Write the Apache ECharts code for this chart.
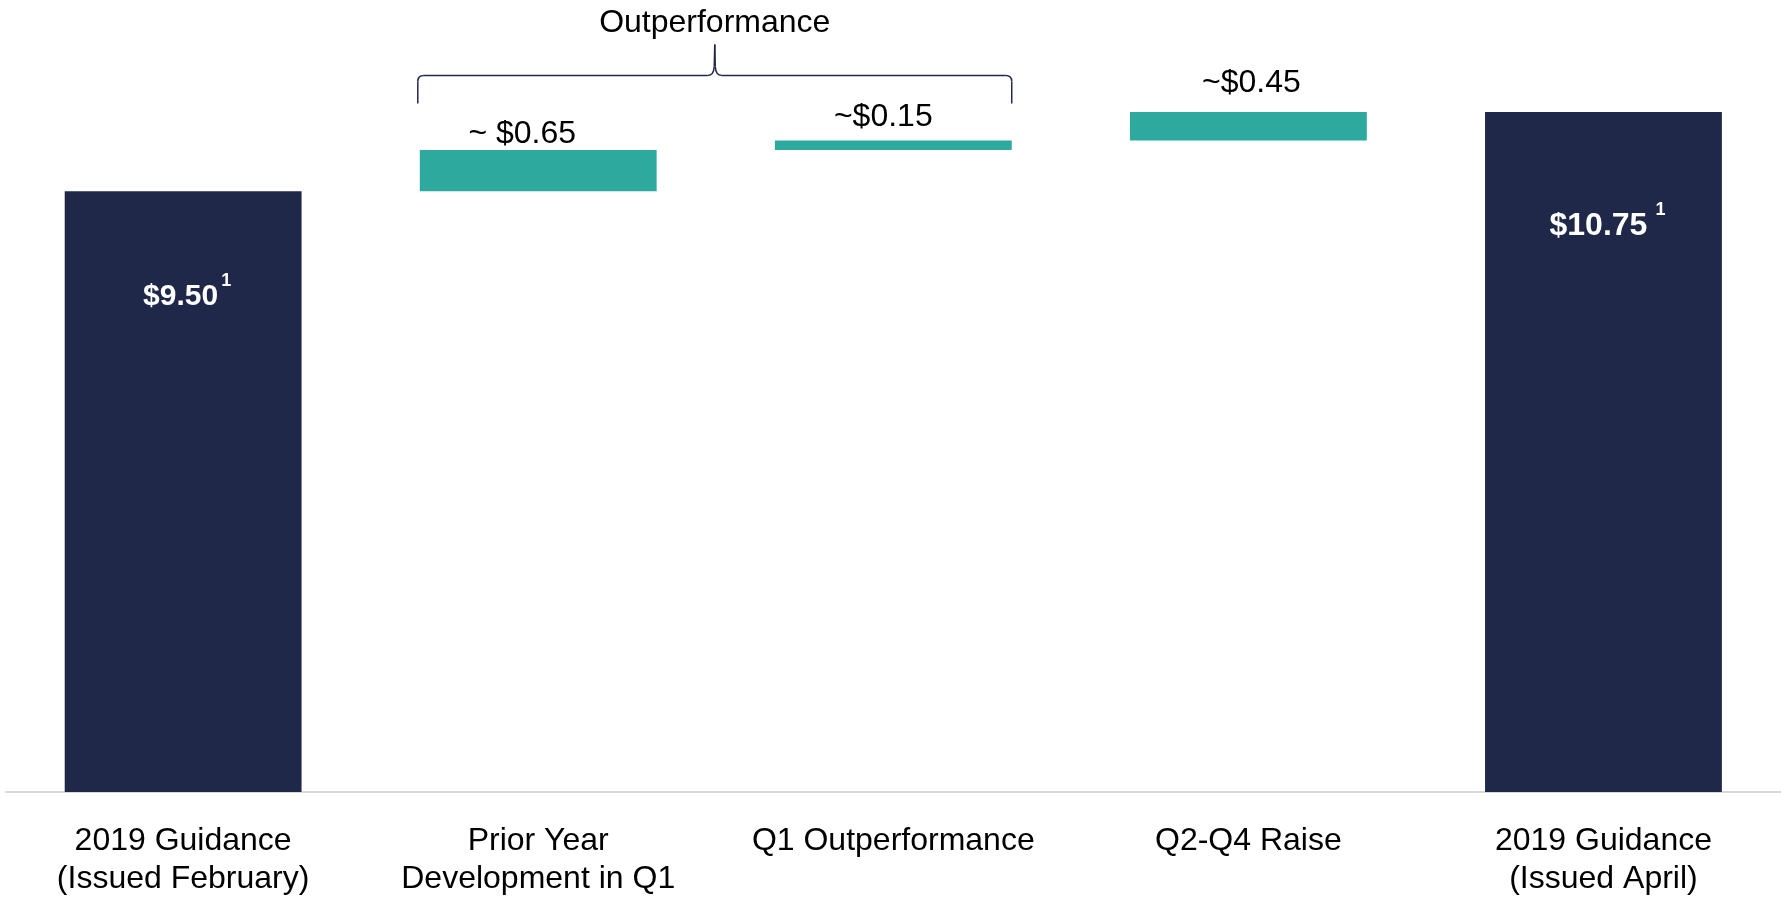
<!DOCTYPE html>
<html>
<head>
<meta charset="utf-8">
<style>
  html, body { margin: 0; padding: 0; background: #fff; }
  #main { width: 1781px; height: 898px; }
</style>
<script src="https://cdn.jsdelivr.net/npm/echarts@6/dist/echarts.min.js"></script>
</head>
<body>
<div id="main"></div>
<script>
// 数据
var categories = ['2019 Guidance\n(Issued February)', 'Prior Year\nDevelopment in Q1', 'Q1 Outperformance', 'Q2-Q4 Raise', '2019 Guidance\n(Issued April)'];
var startValue = 9.50;
var stepValues = [0.65, 0.15, 0.45];
var endValue = 10.75;
var stepLabels = ['~ $0.65', '~$0.15', '~$0.45'];
var totalLabels = ['$9.50', '$10.75'];
var footnote = '1';
var bracketText = 'Outperformance';

// 样式
var NAVY = '#1f2849', TEAL = '#2da99e';
var FONT = '"Liberation Sans", Arial, sans-serif';
var stepLabelStyle = [{offset: [-16, 0], distance: 0}, {offset: [-10, 0], distance: 7}, {offset: [3, 0], distance: 13}];
var totalLabelStyle = [{distance: 81, size: 30, gap: 3}, {distance: 89, size: 32, gap: 8}];

// 瀑布图：透明底座 + 数值
var values = [startValue].concat(stepValues, [endValue]);
var bases = [0], running = startValue;
stepValues.forEach(function(v){ bases.push(running); running += v; });
bases.push(0);

var mainData = values.map(function(v, i){
  var isTotal = (i === 0 || i === values.length - 1);
  var item = { value: v, itemStyle: { color: isTotal ? NAVY : TEAL } };
  if(isTotal){
    var t = i === 0 ? 0 : 1, ts = totalLabelStyle[t];
    item.label = {
      show: true, position: 'insideTop', distance: ts.distance, offset: [4, 0],
      formatter: '{v|' + totalLabels[t] + '}{s|' + footnote + '}',
      rich: {
        v: { fontFamily: FONT, fontSize: ts.size, fontWeight: 'bold', color: '#fff', lineHeight: 50 },
        s: { fontFamily: FONT, fontSize: 18, fontWeight: 'bold', color: '#fff', lineHeight: 18, verticalAlign: 'top', padding: [0, 0, 0, ts.gap] }
      }
    };
  } else {
    var st = stepLabelStyle[i - 1];
    item.label = {
      show: true, position: 'top', distance: st.distance, offset: st.offset,
      formatter: stepLabels[i - 1],
      fontFamily: FONT, fontSize: 32, color: '#000'
    };
  }
  return item;
});

var chart = echarts.init(document.getElementById('main'));
chart.setOption({
  animation: false,
  backgroundColor: '#fff',
  grid: { left: 5.6, width: 1778, top: 33, bottom: 105 },
  xAxis: {
    type: 'category',
    data: categories,
    axisTick: { show: false },
    axisLine: { lineStyle: { color: '#d9d9d9', width: 2 } },
    axisLabel: { interval: 0, fontFamily: FONT, fontSize: 32, lineHeight: 38, color: '#000', margin: 30 }
  },
  yAxis: { type: 'value', min: 0, max: 12, show: false, splitLine: { show: false } },
  series: [
    { name: 'base', type: 'bar', stack: 'w', barWidth: '66.7%', silent: true,
      itemStyle: { color: 'transparent' }, data: bases },
    { name: 'value', type: 'bar', stack: 'w', barWidth: '66.7%', data: mainData }
  ]
});

// 花括号注释：位置由坐标轴换算
var x1 = chart.convertToPixel({xAxisIndex: 0}, 1);
var x2 = chart.convertToPixel({xAxisIndex: 0}, 2);
var half = (x2 - x1) * 0.667 / 2;
var xL = x1 - half - 2, xR = x2 + half, xm = (xL + xR) / 2;
var topY = Math.min(chart.convertToPixel({yAxisIndex: 0}, bases[2] + stepValues[1]),
                    chart.convertToPixel({yAxisIndex: 0}, bases[1] + stepValues[0]));
var yTip = topY - 37, yLine = yTip - 28, yPeak = yLine - 31;
var ls = { stroke: NAVY, lineWidth: 1.5, fill: null };
chart.setOption({
  graphic: [
    { type: 'line', shape: { x1: xL, y1: yTip, x2: xL, y2: yLine + 6 }, style: ls },
    { type: 'bezierCurve', shape: { x1: xL, y1: yLine + 6, cpx1: xL, cpy1: yLine, x2: xL + 6, y2: yLine }, style: ls },
    { type: 'line', shape: { x1: xL + 6, y1: yLine, x2: xm - 7, y2: yLine }, style: ls },
    { type: 'bezierCurve', shape: { x1: xm - 7, y1: yLine, cpx1: xm - 1, cpy1: yLine, x2: xm - 0.5, y2: yLine - 9 }, style: ls },
    { type: 'line', shape: { x1: xm - 0.5, y1: yLine - 9, x2: xm, y2: yPeak }, style: ls },
    { type: 'line', shape: { x1: xm, y1: yPeak, x2: xm + 0.5, y2: yLine - 9 }, style: ls },
    { type: 'bezierCurve', shape: { x1: xm + 0.5, y1: yLine - 9, cpx1: xm + 1, cpy1: yLine, x2: xm + 7, y2: yLine }, style: ls },
    { type: 'line', shape: { x1: xm + 7, y1: yLine, x2: xR - 6, y2: yLine }, style: ls },
    { type: 'bezierCurve', shape: { x1: xR - 6, y1: yLine, cpx1: xR, cpy1: yLine, x2: xR, y2: yLine + 6 }, style: ls },
    { type: 'line', shape: { x1: xR, y1: yLine + 6, x2: xR, y2: yTip }, style: ls },
    { type: 'text', x: xm, y: yPeak - 21,
      style: { text: bracketText, font: '32px ' + FONT, fill: '#000', textAlign: 'center', textVerticalAlign: 'middle' } }
  ]
});
window.onresize = chart.resize;
</script>
</body>
</html>
